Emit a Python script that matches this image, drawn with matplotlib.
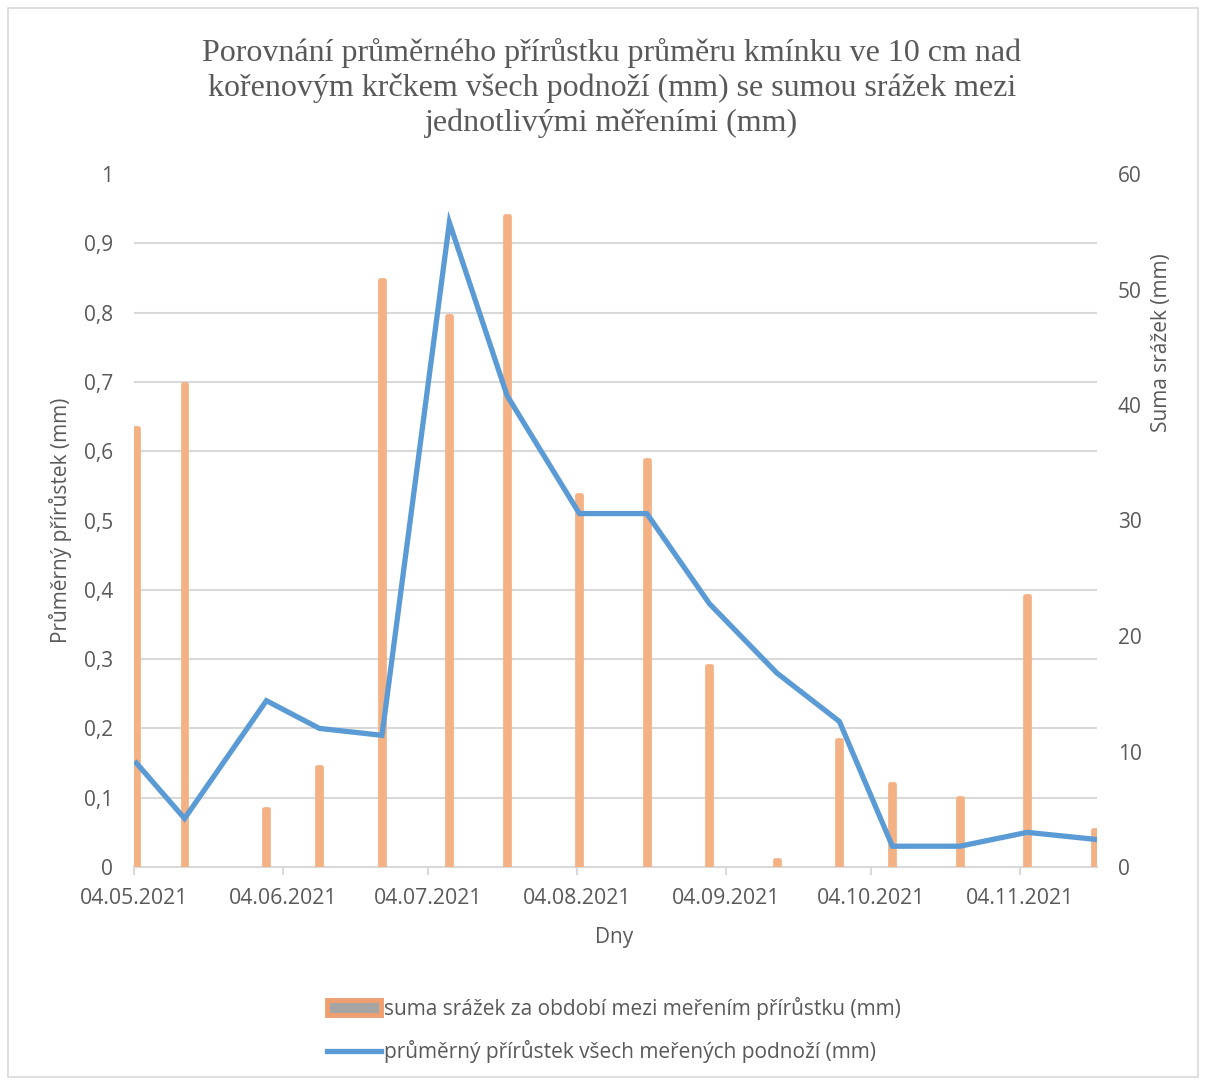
import matplotlib
matplotlib.use("Agg")
import matplotlib.pyplot as plt
import matplotlib.dates as mdates
from matplotlib.patches import Patch, Rectangle
from matplotlib.lines import Line2D
from matplotlib.ticker import FuncFormatter, MultipleLocator
import numpy as np
from datetime import datetime, timedelta

# measurement dates
dates = ["04.05.2021", "14.05.2021", "31.05.2021", "11.06.2021", "24.06.2021",
         "08.07.2021", "20.07.2021", "04.08.2021", "18.08.2021", "31.08.2021",
         "14.09.2021", "27.09.2021", "08.10.2021", "22.10.2021", "05.11.2021",
         "19.11.2021"]
# sum of precipitation between measurements (mm), right axis
srazky = [38.0, 41.8, 5.0, 8.7, 50.8, 47.7, 56.4, 32.2, 35.2, 17.4,
          0.6, 11.0, 7.2, 6.0, 23.5, 3.2]
# mean increment of stem diameter (mm), left axis
prirustek = [0.15, 0.07, 0.24, 0.20, 0.19, 0.93, 0.68, 0.51, 0.51, 0.38,
             0.28, 0.21, 0.03, 0.03, 0.05, 0.04]
tick_dates = ["04.05.2021", "04.06.2021", "04.07.2021", "04.08.2021",
              "04.09.2021", "04.10.2021", "04.11.2021"]

title = ("Porovnání průměrného přírůstku průměru kmínku ve 10 cm nad\n"
         "kořenovým krčkem všech podnoží (mm) se sumou srážek mezi\n"
         "jednotlivými měřeními (mm)")
bar_label = "suma srážek za období mezi meřením přírůstku (mm)"
line_label = "průměrný přírůstek všech meřených podnoží (mm)"

plt.rcParams['font.family'] = ['Open Sans', 'DejaVu Sans']
TXT = '#595959'
GRID = '#D9D9D9'

# Excel centers each day in its slot -> +half a day
x = [datetime.strptime(d, "%d.%m.%Y") + timedelta(hours=12) for d in dates]
ticks = [datetime.strptime(d, "%d.%m.%Y") for d in tick_dates]

fig = plt.figure(figsize=(12.06, 10.81), dpi=100)
fig.patches.append(Rectangle((0.007, 0.004), 0.986, 0.989, transform=fig.transFigure,
                             fill=False, edgecolor=GRID, linewidth=1.2))

ax2 = fig.add_axes([134/1206, 1 - 867/1081, (1097-134)/1206, (867-174)/1081])
ax1 = ax2.twinx()
# line axis on the left, precipitation on the right
ax1.yaxis.tick_left()
ax1.yaxis.set_label_position('left')
ax2.yaxis.tick_right()
ax2.yaxis.set_label_position('right')
ax1.set_zorder(ax2.get_zorder() + 1)
ax1.patch.set_visible(False)

ax2.bar(x, srazky, width=0.8, color='#EB9D68', edgecolor='#F4B183',
        linewidth=3.4, joinstyle='round', zorder=3)
ax1.plot(x, prirustek, color='#5B9BD5', linewidth=3.8, solid_joinstyle='miter')

ax2.set_ylim(0, 60)
ax1.set_ylim(0, 1)
ax2.set_xlim(datetime(2021, 5, 4), datetime(2021, 11, 20))


def comma(v, p):
    return ('%g' % round(v, 2)).replace('.', ',')


ax1.yaxis.set_major_locator(MultipleLocator(0.1))
ax1.yaxis.set_major_formatter(FuncFormatter(comma))
ax2.yaxis.set_major_locator(MultipleLocator(10))
ax2.yaxis.set_minor_locator(MultipleLocator(6))
ax2.grid(which='minor', axis='y', color=GRID, linewidth=1.5)
ax2.set_axisbelow(True)

ax2.set_xticks(ticks)
ax2.xaxis.set_major_formatter(mdates.DateFormatter('%d.%m.%Y'))

for a in (ax1, ax2):
    for s in ('top', 'left', 'right', 'bottom'):
        a.spines[s].set_visible(False)
ax2.spines['bottom'].set_visible(True)
ax2.spines['bottom'].set_color(GRID)
ax2.spines['bottom'].set_linewidth(1.5)

ax1.tick_params(axis='y', length=0, pad=15, labelsize=15, labelcolor=TXT)
ax2.tick_params(axis='y', which='both', length=0, pad=15, labelsize=15, labelcolor=TXT)
ax2.tick_params(axis='x', length=6, width=1.5, color=GRID, pad=9, labelsize=15.3, labelcolor=TXT)

fig.text(612/1206, 1 - 88/1081, title, ha='center', va='center', fontsize=23,
         color=TXT, family='Liberation Serif', linespacing=1.22)
fig.text(60/1206, 1 - 520/1081, "Průměrný přírůstek (mm)", rotation=90,
         ha='center', va='center', fontsize=15, color=TXT)
fig.text(1161/1206, 1 - 343/1081, "Suma srážek (mm)", rotation=90,
         ha='center', va='center', fontsize=15, color=TXT)
fig.text(614/1206, 1 - 937/1081, "Dny", ha='center', va='center', fontsize=15, color=TXT)

handles = [Patch(facecolor='#A5A5A5', edgecolor='#F0A070', linewidth=3.5),
           Line2D([], [], color='#5B9BD5', linewidth=3.8)]
leg = fig.legend(handles, [bar_label, line_label], loc='center',
                 bbox_to_anchor=(614/1206, 1 - 1030/1081), frameon=False,
                 fontsize=15, labelcolor=TXT, handlelength=2.6, handleheight=0.7,
                 handletextpad=0.15, labelspacing=1.0, alignment='left')

fig.savefig('out.png', dpi=100)
